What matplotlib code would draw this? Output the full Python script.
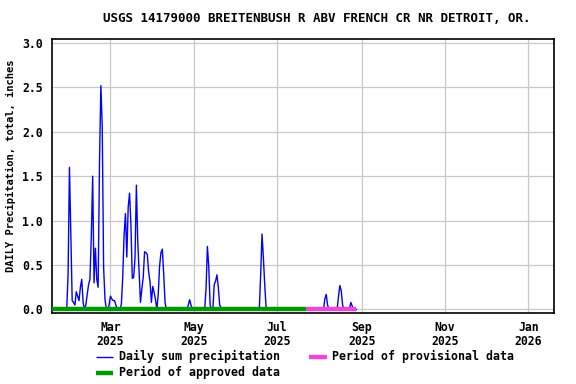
import matplotlib
matplotlib.use("Agg")
import matplotlib.pyplot as plt
from matplotlib.lines import Line2D
import pandas as pd

# ---------------- data ----------------
title = "USGS 14179000 BREITENBUSH R ABV FRENCH CR NR DETROIT, OR."
ylabel = "DAILY Precipitation, total, inches"

series_start = "2025-01-28"
series_end = "2025-08-28"

# days with nonzero daily precipitation (inches); other days read as 0
rain_dates = [
    "2025-01-29", "2025-01-30", "2025-01-31", "2025-02-01", "2025-02-02", "2025-02-03",
    "2025-02-04", "2025-02-05", "2025-02-06", "2025-02-07", "2025-02-08", "2025-02-09",
    "2025-02-11", "2025-02-12", "2025-02-13", "2025-02-14", "2025-02-15", "2025-02-16",
    "2025-02-17", "2025-02-18", "2025-02-19", "2025-02-20", "2025-02-21", "2025-02-22",
    "2025-02-23", "2025-02-24", "2025-02-25", "2025-02-28", "2025-03-01", "2025-03-02",
    "2025-03-03", "2025-03-04", "2025-03-05", "2025-03-09", "2025-03-10", "2025-03-11",
    "2025-03-12", "2025-03-13", "2025-03-14", "2025-03-15", "2025-03-16", "2025-03-17",
    "2025-03-18", "2025-03-19", "2025-03-20", "2025-03-21", "2025-03-22", "2025-03-23",
    "2025-03-24", "2025-03-25", "2025-03-26", "2025-03-27", "2025-03-28", "2025-03-29",
    "2025-03-30", "2025-03-31", "2025-04-01", "2025-04-02", "2025-04-03", "2025-04-05",
    "2025-04-06", "2025-04-07", "2025-04-08", "2025-04-09", "2025-04-10", "2025-04-27",
    "2025-04-28", "2025-04-29", "2025-05-10", "2025-05-11", "2025-05-12", "2025-05-13",
    "2025-05-16", "2025-05-17", "2025-05-18", "2025-05-19", "2025-05-20", "2025-05-21",
    "2025-06-19", "2025-06-20", "2025-06-21", "2025-06-22", "2025-06-23", "2025-08-05",
    "2025-08-06", "2025-08-07", "2025-08-15", "2025-08-16", "2025-08-17", "2025-08-18",
    "2025-08-24", "2025-08-25",
]
rain_values = [
    0.40, 1.60, 0.84, 0.10, 0.08, 0.05,
    0.20, 0.15, 0.10, 0.25, 0.34, 0.08,
    0.05, 0.17, 0.28, 0.34, 0.82, 1.50,
    0.30, 0.69, 0.34, 0.25, 1.65, 2.52,
    2.06, 0.48, 0.12, 0.05, 0.15, 0.12,
    0.10, 0.10, 0.05, 0.06, 0.36, 0.84,
    1.08, 0.59, 1.15, 1.31, 0.96, 0.35,
    0.36, 0.58, 1.40, 0.77, 0.43, 0.08,
    0.23, 0.36, 0.65, 0.64, 0.62, 0.42,
    0.31, 0.08, 0.26, 0.19, 0.11, 0.17,
    0.49, 0.64, 0.68, 0.40, 0.08, 0.05,
    0.11, 0.05, 0.23, 0.71, 0.48, 0.05,
    0.28, 0.32, 0.39, 0.25, 0.05, 0.02,
    0.39, 0.85, 0.58, 0.27, 0.02, 0.12,
    0.17, 0.05, 0.15, 0.27, 0.21, 0.05,
    0.08, 0.04,
]

approved_period = ("2025-01-17", "2025-07-22")
provisional_period = ("2025-07-22", "2025-08-28")

x_limits = ("2025-01-17", "2026-01-20")
y_ticks = [0.0, 0.5, 1.0, 1.5, 2.0, 2.5, 3.0]
x_ticks = ["2025-03-01", "2025-05-01", "2025-07-01", "2025-09-01", "2025-11-01", "2026-01-01"]
x_tick_labels = ["Mar\n2025", "May\n2025", "Jul\n2025", "Sep\n2025", "Nov\n2025", "Jan\n2026"]

legend_labels = ["Daily sum precipitation", "Period of provisional data", "Period of approved data"]

# ---------------- build series ----------------
idx = pd.date_range(series_start, series_end, freq="D")
s = pd.Series(rain_values, index=pd.to_datetime(rain_dates)).reindex(idx, fill_value=0.0)

# ---------------- figure ----------------
FONT = "DejaVu Sans Mono"
W, H = 576, 384
fig = plt.figure(figsize=(W / 100, H / 100), dpi=100)
ax = fig.add_axes([51.7 / W, 1 - 312.5 / H, (554.3 - 51.7) / W, (312.5 - 39.3) / H])

BLUE = "#0000ff"
GREEN = "#009a00"
PINK = "#f044dc"

ax.plot(s.index, s.values, color=BLUE, lw=1.0, zorder=3)
ax.plot(pd.to_datetime(list(approved_period)), [0, 0], color=GREEN, lw=3.2,
        solid_capstyle="butt", zorder=4)
ax.plot(pd.to_datetime(list(provisional_period)), [0, 0], color=PINK, lw=3.2,
        solid_capstyle="butt", zorder=4)

ax.set_xlim(pd.to_datetime(x_limits[0]), pd.to_datetime(x_limits[1]))
ax.set_ylim(-0.034, 3.042)
ax.set_yticks(y_ticks)
ax.set_yticklabels([f"{v:.1f}" for v in y_ticks])
ax.set_xticks(pd.to_datetime(x_ticks))
ax.set_xticklabels(x_tick_labels, linespacing=1.15)

ax.grid(True, color="#c8c8c8", lw=0.9)
ax.set_axisbelow(True)
for sp in ax.spines.values():
    sp.set_color("black")
    sp.set_linewidth(1.2)

ax.tick_params(axis="both", length=0)
ax.tick_params(axis="y", pad=6.5)
ax.tick_params(axis="x", pad=6.0)
for lab in ax.get_xticklabels() + ax.get_yticklabels():
    lab.set_fontfamily(FONT)
    lab.set_fontweight("bold")
    lab.set_fontsize(8.3)

fig.text(317 / W, 1 - 19 / H, title, ha="center", va="center",
         fontfamily=FONT, fontweight="bold", fontsize=9.0)
fig.text(11 / W, 1 - 166 / H, ylabel, ha="center", va="center", rotation=90,
         fontfamily=FONT, fontweight="bold", fontsize=7.5)

# ---------------- legend (manual) ----------------
def legend_item(x0, x1, xt, y, color, lw, label):
    fig.add_artist(Line2D([x0 / W, x1 / W], [1 - y / H, 1 - y / H], color=color, lw=lw,
                          solid_capstyle="butt", transform=fig.transFigure))
    fig.text(xt / W, 1 - y / H, label, ha="left", va="center",
             fontfamily=FONT, fontweight="bold", fontsize=8.4)

legend_item(96, 113, 119, 356.5, BLUE, 1.0, legend_labels[0])
legend_item(309, 327, 332, 356.5, PINK, 3.2, legend_labels[1])
legend_item(96, 113, 119, 372.5, GREEN, 3.2, legend_labels[2])

fig.savefig("out.png", dpi=100)
